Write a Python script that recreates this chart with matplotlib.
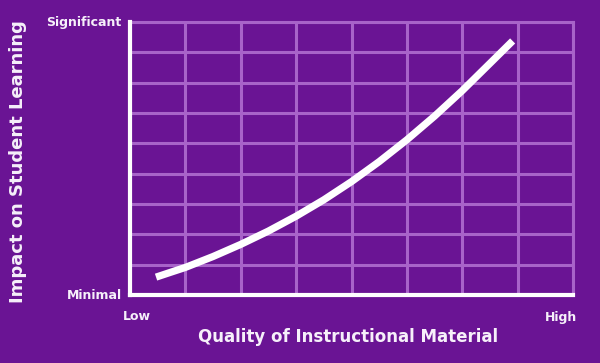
import numpy as np
import matplotlib.pyplot as plt

# curve (grid units: 8 columns x 9 rows)
quality = [0.47, 0.75, 1.0, 1.5, 2.0, 2.5, 3.0, 3.5, 4.0, 4.5, 5.0, 5.5, 6.0, 6.5, 6.91]
impact = [0.59, 0.76, 0.91, 1.27, 1.67, 2.11, 2.60, 3.14, 3.74, 4.40, 5.12, 5.90, 6.74, 7.64, 8.38]

y_ends = ['Minimal', 'Significant']
x_ends = ['Low', 'High']

bg = '#6a1494'
grid_c = '#a863c9'
txt = '#f6f0fa'

fig = plt.figure(figsize=(6, 3.63), dpi=100, facecolor=bg)
ax = fig.add_axes([0.2167, 0.1873, 0.7383, 0.7517])
ax.set_facecolor(bg)
ax.set_xlim(0, 8)
ax.set_ylim(0, 9)
ax.set_xticks(np.arange(0, 9))
ax.set_yticks(np.arange(0, 10))
ax.tick_params(length=0, labelbottom=False, labelleft=False)
ax.grid(color=grid_c, linewidth=2.2)
ax.set_axisbelow(True)

for s in ['top', 'right']:
    ax.spines[s].set_color(grid_c)
    ax.spines[s].set_linewidth(2.2)
for s in ['left', 'bottom']:
    ax.spines[s].set_color('white')
    ax.spines[s].set_linewidth(3)
    ax.spines[s].set_zorder(5)

ax.plot(quality, impact, color='white', linewidth=5.2, solid_capstyle='butt',
        solid_joinstyle='round', zorder=4)

style = dict(color=txt, weight='bold', family='DejaVu Sans', size=9)
ax.annotate(y_ends[0], (0, 0), xytext=(-6, 0), textcoords='offset points',
            ha='right', va='center', **style)
ax.annotate(y_ends[1], (0, 9), xytext=(-6, 0), textcoords='offset points',
            ha='right', va='center', **style)
fig.text(137 / 600, 1 - 317 / 363, x_ends[0], ha='center', va='center', **style)
fig.text(561 / 600, 1 - 318 / 363, x_ends[1], ha='center', va='center', **style)

fig.text(348 / 600, 1 - 337 / 363, 'Quality of Instructional Material',
         ha='center', va='center', color=txt, weight='bold', family='DejaVu Sans', size=12)
fig.text(18 / 600, 1 - 162 / 363, 'Impact on Student Learning',
         ha='center', va='center', rotation=90, color=txt, weight='bold',
         family='DejaVu Sans', size=13)

fig.savefig('out.png', dpi=100, facecolor=bg)
